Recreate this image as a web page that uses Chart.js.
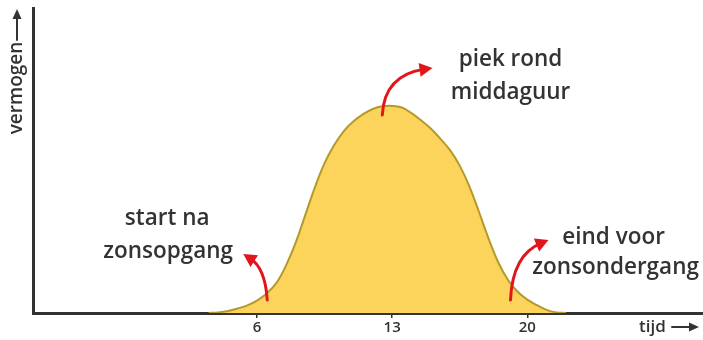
<!DOCTYPE html>
<html>
<head>
<meta charset="utf-8">
<script src="https://cdn.jsdelivr.net/npm/chart.js@4/dist/chart.umd.min.js"></script>
<style>
  html, body { margin: 0; padding: 0; background: #fff; }
  #wrap { width: 703px; height: 340px; }
</style>
</head>
<body>
<div id="wrap"><canvas id="chart"></canvas></div>
<script>
// uur van de dag en relatief vermogen (piek = 100)
const hours = [3.5, 4, 4.5, 5, 5.5, 6, 6.5, 7, 7.5, 8, 8.5, 9, 9.5, 10, 10.5, 11, 11.5, 12, 12.5, 13, 13.5, 14, 14.5, 15, 15.5, 16, 16.5, 17, 17.5, 18, 18.5, 19, 19.5, 20, 20.5, 21, 21.5, 22]
const power = [0, 0.3, 1, 2.2, 3.7, 6, 9.5, 14.5, 23, 34, 47.5, 61, 72.7, 81.5, 88.3, 93, 96.5, 99, 100.3, 100.5, 99.7, 97, 93.5, 89.5, 84.5, 79, 71.5, 61.5, 49, 36, 24.5, 16, 10.3, 6.5, 3.8, 1.5, 0.3, 0]
const tickHours = [6, 13, 20]

// teksten bij de curve (in uur / vermogen)
const notes = [
  { text: 'piek rond', x: 19.13, y: 122.8 },
  { text: 'middaguur', x: 19.13, y: 106.8 },
  { text: 'start na', x: 1.35, y: 45.6 },
  { text: 'zonsopgang', x: 1.4, y: 29.6 },
  { text: 'eind voor', x: 24.47, y: 36.4 },
  { text: 'zonsondergang', x: 24.57, y: 21.8 }
]

// rode pijlen: staart, controlepunt, punt
const arrows = [
  { from: [6.53, 6.3], ctrl: [6.43, 21.8], to: [5.29, 28.6] },
  { from: [12.49, 96.1], ctrl: [12.6, 115.5], to: [15.09, 118.9] },
  { from: [19.13, 6.3], ctrl: [19.23, 28.2], to: [21.1, 35.4] }
]

const textColor = '#333'

function arrowHead (ctx, x0, y0, x1, y1, len, half) {
  const a = Math.atan2(y1 - y0, x1 - x0)
  ctx.beginPath()
  ctx.moveTo(x1, y1)
  ctx.lineTo(x1 - len * Math.cos(a) + half * Math.sin(a), y1 - len * Math.sin(a) - half * Math.cos(a))
  ctx.lineTo(x1 - len * Math.cos(a) - half * Math.sin(a), y1 - len * Math.sin(a) + half * Math.cos(a))
  ctx.closePath()
  ctx.fill()
}

const notesPlugin = {
  id: 'notes',
  afterDraw (chart) {
    const { ctx, chartArea, scales: { x, y } } = chart
    ctx.save()

    // pijlen
    ctx.strokeStyle = '#e3151c'
    ctx.fillStyle = '#e3151c'
    ctx.lineWidth = 3
    ctx.lineCap = 'round'
    arrows.forEach(a => {
      const fx = x.getPixelForValue(a.from[0]); const fy = y.getPixelForValue(a.from[1])
      const cx = x.getPixelForValue(a.ctrl[0]); const cy = y.getPixelForValue(a.ctrl[1])
      const tx = x.getPixelForValue(a.to[0]); const ty = y.getPixelForValue(a.to[1])
      const ang = Math.atan2(ty - cy, tx - cx)
      ctx.beginPath()
      ctx.moveTo(fx, fy)
      ctx.quadraticCurveTo(cx, cy, tx - 8 * Math.cos(ang), ty - 8 * Math.sin(ang))
      ctx.stroke()
      arrowHead(ctx, cx, cy, tx, ty, 13, 7)
    })

    // teksten
    ctx.fillStyle = textColor
    ctx.font = '600 22.5px "Open Sans"'
    ctx.textAlign = 'center'
    ctx.textBaseline = 'middle'
    notes.forEach(n => ctx.fillText(n.text, x.getPixelForValue(n.x), y.getPixelForValue(n.y)))

    // as-titels met pijltjes
    ctx.fillStyle = '#333'
    ctx.strokeStyle = '#333'
    ctx.lineWidth = 2
    ctx.font = '600 19px "Open Sans"'
    ctx.save()
    ctx.translate(chartArea.left - 16, chartArea.top + 80)
    ctx.rotate(-Math.PI / 2)
    ctx.fillText('vermogen', 0, 0)
    ctx.restore()
    const ax = chartArea.left - 16
    ctx.beginPath()
    ctx.moveTo(ax, chartArea.top + 32)
    ctx.lineTo(ax, chartArea.top + 10)
    ctx.stroke()
    arrowHead(ctx, ax, chartArea.top + 32, ax, chartArea.top + 1, 10, 4.5)

    const ty = chartArea.bottom + 14
    ctx.textAlign = 'left'
    ctx.font = '600 17px "Open Sans"'
    ctx.fillText('tijd', chartArea.right - 64, ty)
    ctx.beginPath()
    ctx.moveTo(chartArea.right - 31, ty)
    ctx.lineTo(chartArea.right - 12, ty)
    ctx.stroke()
    arrowHead(ctx, chartArea.right - 31, ty, chartArea.right - 4, ty, 10, 4.5)

    ctx.restore()
  }
}

new Chart(document.getElementById('chart'), {
  type: 'line',
  data: {
    datasets: [{
      data: hours.map((h, i) => ({ x: h, y: power[i] })),
      borderColor: '#b39a2a',
      borderWidth: 2,
      backgroundColor: '#fcd45c',
      fill: 'origin',
      pointRadius: 0,
      tension: 0.4
    }]
  },
  options: {
    responsive: true,
    maintainAspectRatio: false,
    animation: false,
    layout: { padding: { top: 8, right: 0, left: 0, bottom: 0 } },
    plugins: { legend: { display: false }, tooltip: { enabled: false } },
    scales: {
      x: {
        type: 'linear',
        min: -5.6,
        max: 29.1,
        afterBuildTicks: scale => { scale.ticks = tickHours.map(v => ({ value: v })) },
        afterFit: scale => { scale.height = 27 },
        grid: { display: true, drawOnChartArea: false, drawTicks: true, tickLength: 5, color: '#333', lineWidth: 1.5 },
        border: { display: true, color: '#333', width: 3 },
        ticks: { color: '#333', font: { family: 'Open Sans', size: 15, weight: '600' }, padding: 1, maxRotation: 0 }
      },
      y: {
        min: 0,
        max: 148,
        afterFit: scale => { scale.width = 33 },
        grid: { display: false },
        border: { display: true, color: '#333', width: 3 },
        ticks: { display: false }
      }
    }
  },
  plugins: [notesPlugin]
})
</script>
</body>
</html>
